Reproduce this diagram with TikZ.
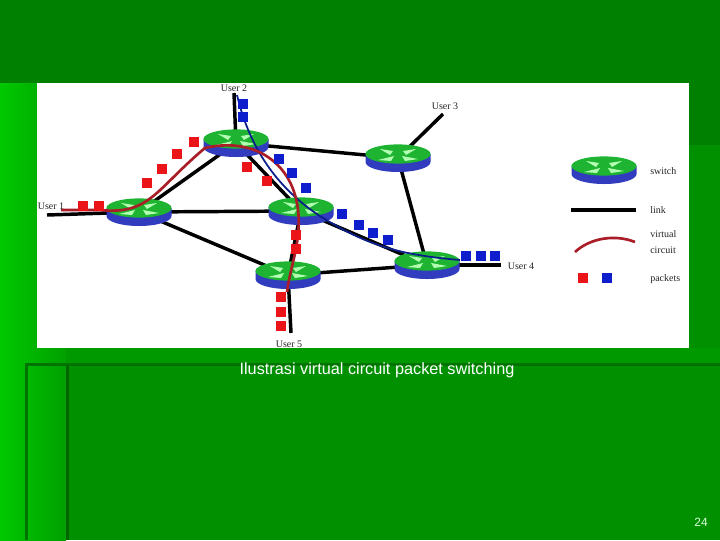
\documentclass[tikz,border=0pt]{standalone}
\usepackage{fontspec}
\setmainfont{Liberation Serif}
\newfontfamily\capfont{Liberation Sans}
\usetikzlibrary{shapes.geometric}
\definecolor{bgdark}{RGB}{0,128,0}
\definecolor{bgmain}{RGB}{0,144,0}
\definecolor{bgmid}{RGB}{0,160,0}
\definecolor{bgbright}{RGB}{0,200,0}
\definecolor{swtop}{RGB}{30,180,50}
\definecolor{swside}{RGB}{50,60,190}
\definecolor{swedge}{RGB}{20,30,110}
\definecolor{vc}{RGB}{170,30,40}
\definecolor{vcb}{RGB}{10,30,140}
\definecolor{pr}{RGB}{235,20,25}
\definecolor{pb}{RGB}{15,30,205}
\tikzset{
 x=0.75pt,y=-0.75pt,
 linkline/.style={line width=2.6pt,black},
 vcred/.style={line width=2pt,vc},
 vcblue/.style={line width=1.3pt,vcb},
 usertext/.style={font=\fontsize{7.5}{8}\selectfont,text=black!85,inner sep=0pt},
 capt/.style={font=\capfont\fontsize{12.2}{14}\selectfont,text=white,inner sep=0pt},
 pnum/.style={font=\capfont\fontsize{9}{11}\selectfont,text=white!85!green,inner sep=0pt},
 pktr/.style={fill=pr,draw=none,minimum size=8pt,inner sep=0pt,shape=rectangle},
 pktb/.style={fill=pb,draw=none,minimum size=8pt,inner sep=0pt,shape=rectangle},
 anchorpt/.style={inner sep=0pt,minimum size=0pt},
}
\newcommand{\switchat}[2]{%
 \node[anchorpt] (#1) at (#2) {};
 \fill[swside] ([shift={(-32.5,-4)}]#1.center) -- ([shift={(-32.5,4)}]#1.center)
   arc[x radius=24.4pt,y radius=7.5pt,start angle=180,end angle=360]
   -- ([shift={(32.5,-4)}]#1.center) -- cycle;
 \fill[swtop] ([shift={(0,-4)}]#1.center) ellipse[x radius=24.4pt,y radius=7.2pt];
 \fill[white!70!green] ([shift={(-18,-9)}]#1.center) -- ([shift={(-5,-7)}]#1.center) -- ([shift={(-8,-3)}]#1.center) -- cycle;
 \fill[white!70!green] ([shift={(18,-9)}]#1.center) -- ([shift={(5,-7)}]#1.center) -- ([shift={(8,-3)}]#1.center) -- cycle;
 \fill[white!70!green] ([shift={(-20,2)}]#1.center) -- ([shift={(-4,-2)}]#1.center) -- ([shift={(-7,3)}]#1.center) -- cycle;
 \fill[white!70!green] ([shift={(20,1)}]#1.center) -- ([shift={(4,-2)}]#1.center) -- ([shift={(7,3)}]#1.center) -- cycle;
}
\begin{document}
\begin{tikzpicture}
\useasboundingbox (0,0) rectangle (720,540);
% background
\fill[bgmain] (0,0) rectangle (720,540);
\fill[bgdark] (0,0) rectangle (720,83);
\shade[left color=bgbright,right color=bgmid] (0,83) rectangle (66,540);
\fill[bgdark!80!black] (66,348) rectangle (69,540);
\fill[bgdark!90!black] (25,363) rectangle (720,366);
\fill[bgdark!90!black] (25,363) rectangle (28,540);
\fill[bgdark] (689,83) rectangle (720,145);
\fill[bgmid!60!bgmain] (66,348) rectangle (720,363);
% picture
\fill[white] (37,83) rectangle (689,348);
% users
\coordinate (u1) at (47,215);
\coordinate (u2) at (234,93);
\coordinate (u3) at (443,114);
\coordinate (u4) at (501,265);
\coordinate (u5) at (291,333);
\coordinate (lk1) at (571,210);
\coordinate (lk2) at (636,210);
\node[anchorpt] (n1) at (139,212) {};
\node[anchorpt] (n2) at (236,143) {};
\node[anchorpt] (n3) at (398,158) {};
\node[anchorpt] (n4) at (301,211) {};
\node[anchorpt] (n5) at (288,275) {};
\node[anchorpt] (n6) at (427,265) {};
\begin{scope}[linkline]
\draw (u1) -- (n1);
\draw (u2) -- (n2);
\draw (u3) -- (n3);
\draw (u4) -- (n6);
\draw (u5) -- (n5);
\draw (n1) -- (n2);
\draw (n1) -- (n4);
\draw (n1) -- (n5);
\draw (n2) -- (n3);
\draw (n2) -- (n4);
\draw (n3) -- (n6);
\draw (n4) -- (n5);
\draw (n4) -- (n6);
\draw (n5) -- (n6);
\end{scope}
\draw[linkline] (lk1) -- (lk2);
\switchat{s1}{139,212}
\switchat{s2}{236,143}
\switchat{s3}{398,158}
\switchat{s4}{301,211}
\switchat{s5}{288,275}
\switchat{s6}{427,265}
\switchat{sl}{604,170}
% blue circuit
\draw[vcblue] (237,95) .. controls (250,150) and (280,195) .. (335,225) .. controls (370,245) and (400,255) .. (460,260);
% red circuit
\draw[vcred] (61,210) -- (100,210) .. controls (150,215) and (155,190) .. (205,148) .. controls (260,135) and (305,170) .. (298,235) .. controls (296,255) and (290,270) .. (287,292);
% legend curve
\draw[line width=2pt,vc] (575,252) .. controls (590,238) and (615,234) .. (635,242);
% packets
\foreach \nm/\p in {a/{83,206},b/{99,206},c/{147,183},d/{162,169},e/{177,154},f/{194,142},g/{247,167},h/{267,181},i/{296,235},j/{296,249},k/{281,297},l/{281,312},m/{281,326},n/{583,278}}
  \node[pktr] (r\nm) at (\p) {};
\foreach \nm/\p in {a/{243,104},b/{243,117},c/{279,159},d/{292,173},e/{306,188},f/{342,214},g/{359,225},h/{373,233},i/{388,240},j/{466,256},k/{481,256},l/{495,256},m/{607,278}}
  \node[pktb] (b\nm) at (\p) {};
% labels
\node[usertext] (l1) at (51,206) {User 1};
\node[usertext] (l2) at (234,88) {User 2};
\node[usertext] (l3) at (445,106) {User 3};
\node[usertext] (l4) at (521,266) {User 4};
\node[usertext] (l5) at (289,344) {User 5};
\node[usertext,anchor=west] (k1) at (650,171) {switch};
\node[usertext,anchor=west] (k2) at (650,210) {link};
\node[usertext,anchor=west] (k3) at (650,234) {virtual};
\node[usertext,anchor=west] (k4) at (650,250) {circuit};
\node[usertext,anchor=west] (k5) at (650,279) {packets};
\node[capt] (cap) at (377,370) {Ilustrasi virtual circuit packet switching};
\node[pnum] (num) at (701,522) {24};
\end{tikzpicture}
\end{document}
